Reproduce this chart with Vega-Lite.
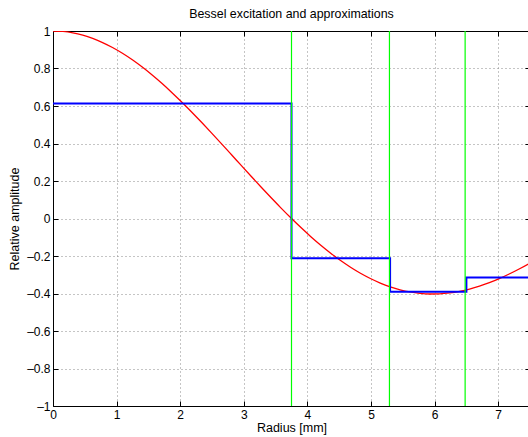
{
  "$schema": "https://vega.github.io/schema/vega-lite/v6.json",
  "autosize": "none",
  "padding": {"left": 53, "top": 31, "right": 0, "bottom": 30},
  "width": 477,
  "height": 375,
  "background": "white",
  "config": {
    "view": {"stroke": null},
    "font": "Liberation Sans",
    "axis": {
      "labelFont": "Liberation Sans",
      "titleFont": "Liberation Sans",
      "labelFontSize": 12,
      "titleFontSize": 12.5,
      "titleFontWeight": "normal",
      "labelColor": "#000",
      "titleColor": "#000",
      "domainColor": "#000",
      "domainWidth": 1,
      "tickColor": "#000",
      "tickSize": -5,
      "labelPadding": 9,
      "gridColor": "#8a8a8a",
      "gridDash": [1, 3],
      "gridWidth": 1
    }
  },
  "title": {
    "text": "Bessel excitation and approximations",
    "font": "Liberation Sans",
    "fontSize": 12.4,
    "fontWeight": "normal",
    "color": "#000",
    "offset": 5
  },
  "datasets": {
    "bessel": [
      {"r": 0, "a": 1},
      {"r": 0.1559, "a": 0.9975},
      {"r": 0.3119, "a": 0.99002},
      {"r": 0.4678, "a": 0.97763},
      {"r": 0.6238, "a": 0.9604},
      {"r": 0.7797, "a": 0.93847},
      {"r": 0.9356, "a": 0.912},
      {"r": 1.0916, "a": 0.8812},
      {"r": 1.2475, "a": 0.84629},
      {"r": 1.4034, "a": 0.80752},
      {"r": 1.5594, "a": 0.7652},
      {"r": 1.7153, "a": 0.71962},
      {"r": 1.8713, "a": 0.67113},
      {"r": 2.0272, "a": 0.62009},
      {"r": 2.1831, "a": 0.56686},
      {"r": 2.3391, "a": 0.51183},
      {"r": 2.495, "a": 0.4554},
      {"r": 2.6509, "a": 0.39798},
      {"r": 2.8069, "a": 0.33999},
      {"r": 2.9628, "a": 0.28182},
      {"r": 3.1188, "a": 0.22389},
      {"r": 3.2747, "a": 0.16661},
      {"r": 3.4306, "a": 0.11036},
      {"r": 3.5866, "a": 0.05554},
      {"r": 3.7425, "a": 0.00251},
      {"r": 3.8984, "a": -0.04838},
      {"r": 4.0544, "a": -0.0968},
      {"r": 4.2103, "a": -0.14245},
      {"r": 4.3663, "a": -0.18504},
      {"r": 4.5222, "a": -0.22431},
      {"r": 4.6781, "a": -0.26005},
      {"r": 4.8341, "a": -0.29206},
      {"r": 4.99, "a": -0.32019},
      {"r": 5.1459, "a": -0.3443},
      {"r": 5.3019, "a": -0.3643},
      {"r": 5.4578, "a": -0.38013},
      {"r": 5.6138, "a": -0.39177},
      {"r": 5.7697, "a": -0.39923},
      {"r": 5.9256, "a": -0.40256},
      {"r": 6.0816, "a": -0.40183},
      {"r": 6.2375, "a": -0.39715},
      {"r": 6.3934, "a": -0.38867},
      {"r": 6.5494, "a": -0.37656},
      {"r": 6.7053, "a": -0.36101},
      {"r": 6.8613, "a": -0.34226},
      {"r": 7.0172, "a": -0.32054},
      {"r": 7.1731, "a": -0.29614},
      {"r": 7.3291, "a": -0.26933},
      {"r": 7.485, "a": -0.24043},
      {"r": 7.641, "a": -0.20974}
    ],
    "approx": [
      {"r": 0, "a": 0.613},
      {"r": 3.75, "a": -0.212},
      {"r": 5.3, "a": -0.39},
      {"r": 6.5, "a": -0.314},
      {"r": 7.7, "a": -0.314}
    ],
    "zones": [
      {"r": 3.75},
      {"r": 5.29},
      {"r": 6.48}
    ]
  },
  "layer": [
    {
      "data": {"name": "bessel"},
      "mark": {"type": "line", "color": "#ff0000", "strokeWidth": 1.3, "clip": true, "interpolate": "monotone"},
      "encoding": {
        "x": {"field": "r", "type": "quantitative", "scale": {"domain": [0, 7.5], "nice": false, "zero": false},
          "axis": {"orient": "bottom", "title": "Radius [mm]", "values": [0, 1, 2, 3, 4, 5, 6, 7], "format": "~g", "grid": true, "titlePadding": 1, "labelPadding": 8, "labelFlush": false}},
        "y": {"field": "a", "type": "quantitative", "scale": {"domain": [-1, 1], "nice": false},
          "axis": {"orient": "left", "title": "Relative amplitude", "values": [-1, -0.8, -0.6, -0.4, -0.2, 0, 0.2, 0.4, 0.6, 0.8, 1], "labelExpr": "datum.value < 0 ? '\u2013' + format(-datum.value, '~g') : format(datum.value, '~g')", "grid": true, "titlePadding": 5, "labelPadding": 8, "labelFlush": false}}
      }
    },
    {
      "data": {"name": "approx"},
      "mark": {"type": "line", "color": "#0000ff", "strokeWidth": 2, "clip": true, "interpolate": "step-after"},
      "encoding": {
        "x": {"field": "r", "type": "quantitative",
          "axis": {"orient": "top", "title": null, "labels": false, "grid": false, "values": [0, 1, 2, 3, 4, 5, 6, 7]}},
        "y": {"field": "a", "type": "quantitative",
          "axis": {"orient": "right", "title": null, "labels": false, "grid": false, "values": [-1, -0.8, -0.6, -0.4, -0.2, 0, 0.2, 0.4, 0.6, 0.8, 1]}}
      }
    },
    {
      "data": {"name": "zones"},
      "mark": {"type": "rule", "color": "#00ff00", "strokeWidth": 1.2},
      "encoding": {
        "x": {"field": "r", "type": "quantitative", "axis": null}
      }
    }
  ],
  "resolve": {"axis": {"x": "independent", "y": "independent"}}
}
